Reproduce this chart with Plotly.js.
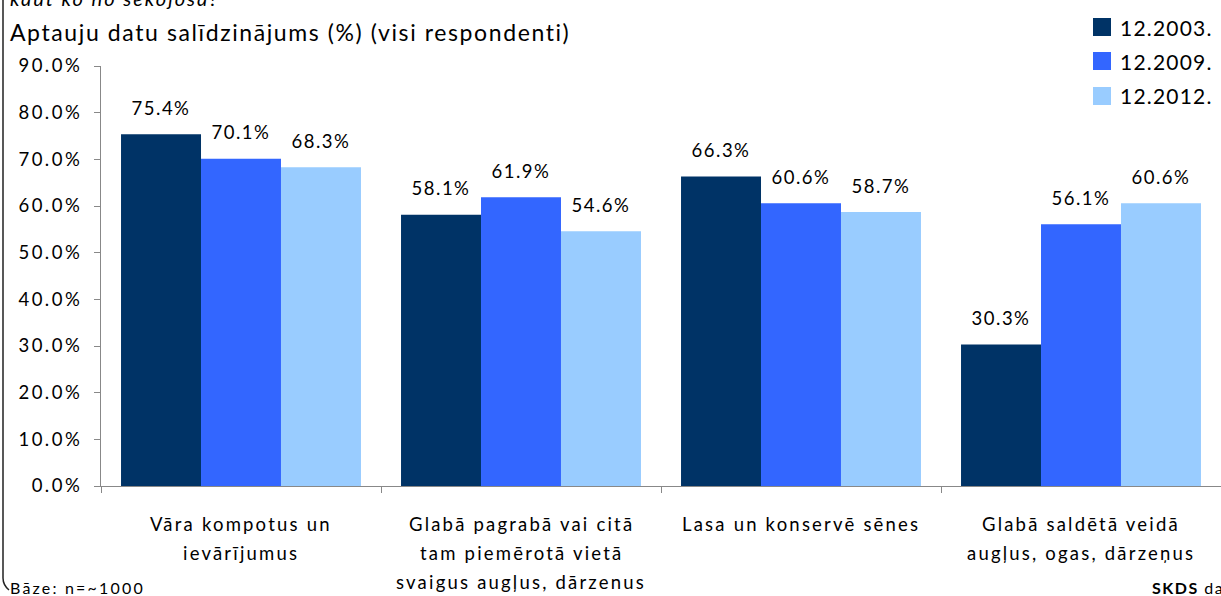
<!DOCTYPE html>
<html>
<head>
<meta charset="utf-8">
<script src="https://cdn.plot.ly/plotly-3.0.1.min.js"></script>
<style>
html,body{margin:0;padding:0;background:#fff;}
#chart{width:1221px;height:596px;}
.ytick text, text.ytick{letter-spacing:2.5px;}
.textpoint text{letter-spacing:1.5px;}
</style>
</head>
<body>
<div id="chart"></div>
<script>
const categories = [
  "Vāra kompotus un<br>ievārījumus",
  "Glabā pagrabā vai citā<br>tam piemērotā vietā<br>svaigus augļus, dārzenus",
  "Lasa un konservē sēnes",
  "Glabā saldētā veidā<br>augļus, ogas, dārzeņus"
];
const seriesNames = ["12.2003.", "12.2009.", "12.2012."];
const v2003 = [75.4, 58.1, 66.3, 30.3];
const v2009 = [70.1, 61.9, 60.6, 56.1];
const v2012 = [68.3, 54.6, 58.7, 60.6];
const colors = ["#003366", "#3366FF", "#99CCFF"];
const yTicks = [0, 10, 20, 30, 40, 50, 60, 70, 80, 90];

const FONT = "Lato, 'Open Sans', sans-serif";
const series = [v2003, v2009, v2012];
const traces = [];
series.forEach((vals, i) => {
  traces.push({
    type: "bar", name: seriesNames[i], x: categories, y: vals,
    marker: {color: colors[i]}, offsetgroup: "g" + i,
    showlegend: false, hoverinfo: "none"
  });
});
series.forEach((vals, i) => {
  traces.push({
    type: "scatter", mode: "markers+text", x: categories, y: vals,
    text: vals.map(v => v.toFixed(1) + "%"), textposition: "top center",
    textfont: {family: FONT, size: 18.5, color: "#000"},
    marker: {size: 22, color: "rgba(0,0,0,0)"}, cliponaxis: false,
    offsetgroup: "g" + i, showlegend: false, hoverinfo: "none"
  });
});

// plot area pixel geometry helpers
const L = 101, W = 1120, T = 66, H = 420;
const px = x => (x - L) / W;
const py = y => (T + H - y) / H;
const sp = (t, s) => `<span style="letter-spacing:${s}px">${t}</span>`;

const annotations = [];
const lineY = [524, 553, 582];
categories.forEach(c => {
  c.split("<br>").forEach((line, k) => {
    annotations.push({
      xref: "x", yref: "paper", x: c, y: py(lineY[k]),
      text: sp(line, 2.2), showarrow: false, xanchor: "center", yanchor: "middle",
      font: {family: FONT, size: 18.5, color: "#000"}
    });
  });
});
annotations.push({
  xref: "paper", yref: "paper", x: px(8), y: py(32), xanchor: "left", yanchor: "middle", align: "left",
  text: sp("Aptauju datu salīdzinājums (%) (visi respondenti)", 1.6), showarrow: false,
  font: {family: FONT, size: 23, color: "#000"}
});
annotations.push({
  xref: "paper", yref: "paper", x: px(8), y: py(-2), xanchor: "left", yanchor: "middle", align: "left",
  text: "<i>" + sp("kaut ko no sekojošā?", 2) + "</i>", showarrow: false,
  font: {family: FONT, size: 20, color: "#000"}
});
annotations.push({
  xref: "paper", yref: "paper", x: px(8), y: py(587), xanchor: "left", yanchor: "middle", align: "left",
  text: sp("Bāze: n=~1000", 2.2), showarrow: false,
  font: {family: FONT, size: 16, color: "#000"}
});
annotations.push({
  xref: "paper", yref: "paper", x: px(1150), y: py(587), xanchor: "left", yanchor: "middle", align: "left",
  text: sp("<b>SKDS</b> dati", 1.5), showarrow: false,
  font: {family: FONT, size: 16, color: "#000"}
});

// custom legend (large square swatches)
const legRows = [27, 61, 96];
const shapes = [];
seriesNames.forEach((n, i) => {
  shapes.push({
    type: "rect", xref: "paper", yref: "paper",
    x0: px(1093), x1: px(1111), y0: py(legRows[i] - 9), y1: py(legRows[i] + 9),
    fillcolor: colors[i], line: {width: 0}
  });
  annotations.push({
    xref: "paper", yref: "paper", x: px(1118), y: py(legRows[i]), xanchor: "left", yanchor: "middle", align: "left",
    text: sp(n, 1.2), showarrow: false, font: {family: FONT, size: 21, color: "#000"}
  });
});
shapes.push({
  type: "path", xref: "paper", yref: "paper",
  path: `M ${px(3)},${py(-5)} L ${px(3)},${py(578)} Q ${px(3)},${py(585)} ${px(9)},${py(590)}`,
  line: {color: "#222", width: 1.5}
});

const layout = {
  width: 1221, height: 596,
  margin: {l: L, r: 0, t: T, b: 596 - T - H, pad: 0},
  paper_bgcolor: "#fff", plot_bgcolor: "#fff",
  barmode: "group", bargap: 0.143, bargroupgap: 0,
  scattermode: "group", scattergap: 0.143,
  showlegend: false,
  xaxis: {
    showticklabels: false, ticks: "outside", tickson: "boundaries", ticklen: 6,
    tickcolor: "#888", showline: true, linecolor: "#888", linewidth: 1,
    showgrid: false, zeroline: false, fixedrange: true
  },
  yaxis: {
    range: [0, 90], tickvals: yTicks, ticktext: yTicks.map(t => t.toFixed(1) + "%"),
    ticks: "outside", ticklen: 6, tickcolor: "#888", ticklabelstandoff: 8,
    showline: true, linecolor: "#888", linewidth: 1,
    showgrid: false, zeroline: false,
    tickfont: {family: FONT, size: 18.5, color: "#000"}, fixedrange: true
  },
  annotations: annotations,
  shapes: shapes
};

Plotly.newPlot("chart", traces, layout, {displayModeBar: false, staticPlot: true});
</script>
</body>
</html>
